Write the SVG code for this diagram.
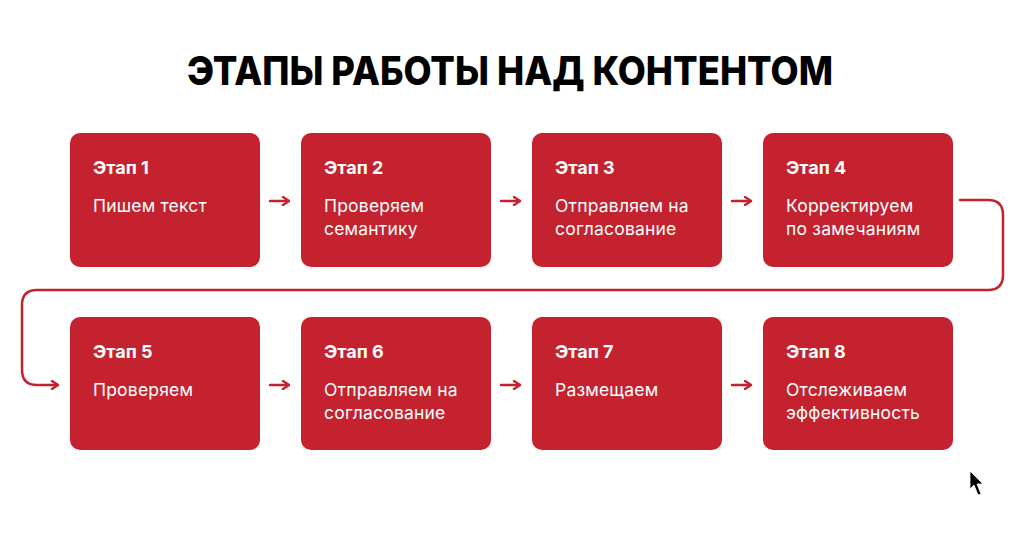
<svg xmlns="http://www.w3.org/2000/svg" width="1024" height="534" viewBox="0 0 1024 534">
<defs>
<style>
.box{fill:#C3222E}
.h{font-family:"Inter","Liberation Sans",sans-serif;font-weight:700;font-size:18px;fill:#fff}
.t{font-family:"Inter","Liberation Sans",sans-serif;font-weight:400;font-size:17.5px;fill:#fff;letter-spacing:0.2px}
.c{fill:none;stroke:#C3222E;stroke-width:2.5;stroke-linecap:round;stroke-linejoin:round}
</style>
<marker id="ah" viewBox="0 0 10 10" refX="9" refY="5" markerWidth="10" markerHeight="10" markerUnits="userSpaceOnUse" orient="auto">
<path d="M3,1 L9,5 L3,9" fill="none" stroke="#C3222E" stroke-width="2.4" stroke-linecap="round" stroke-linejoin="round"/>
</marker>
</defs>
<rect width="1024" height="534" fill="#fff"/>
<text x="510" y="85" text-anchor="middle" font-family="Inter,'Liberation Sans',sans-serif" font-weight="800" font-size="40" textLength="646" lengthAdjust="spacingAndGlyphs" fill="#000">ЭТАПЫ РАБОТЫ НАД КОНТЕНТОМ</text>
<g id="connectors">
<path class="c" d="M270,201 H289" marker-end="url(#ah)"/>
<path class="c" d="M501,201 H520" marker-end="url(#ah)"/>
<path class="c" d="M732,201 H751" marker-end="url(#ah)"/>
<path class="c" d="M270,385 H289" marker-end="url(#ah)"/>
<path class="c" d="M501,385 H520" marker-end="url(#ah)"/>
<path class="c" d="M732,385 H751" marker-end="url(#ah)"/>
<path class="c" d="M960,200 H988 Q1003,200 1003,215 V275 Q1003,290 988,290 H37 Q22,290 22,305 V370 Q22,385 37,385 H58" marker-end="url(#ah)"/>
</g>
<g id="n1"><rect class="box" x="70" y="133" width="190" height="134" rx="10"/><text class="h" x="93" y="174">Этап 1</text><text class="t" x="93" y="212">Пишем текст</text></g>
<g id="n2"><rect class="box" x="301" y="133" width="190" height="134" rx="10"/><text class="h" x="324" y="174">Этап 2</text><text class="t" x="324" y="212">Проверяем</text><text class="t" x="324" y="235">семантику</text></g>
<g id="n3"><rect class="box" x="532" y="133" width="190" height="134" rx="10"/><text class="h" x="555" y="174">Этап 3</text><text class="t" x="555" y="212">Отправляем на</text><text class="t" x="555" y="235">согласование</text></g>
<g id="n4"><rect class="box" x="763" y="133" width="190" height="134" rx="10"/><text class="h" x="786" y="174">Этап 4</text><text class="t" x="786" y="212">Корректируем</text><text class="t" x="786" y="235">по замечаниям</text></g>
<g id="n5"><rect class="box" x="70" y="317" width="190" height="133" rx="10"/><text class="h" x="93" y="358">Этап 5</text><text class="t" x="93" y="396">Проверяем</text></g>
<g id="n6"><rect class="box" x="301" y="317" width="190" height="133" rx="10"/><text class="h" x="324" y="358">Этап 6</text><text class="t" x="324" y="396">Отправляем на</text><text class="t" x="324" y="419">согласование</text></g>
<g id="n7"><rect class="box" x="532" y="317" width="190" height="133" rx="10"/><text class="h" x="555" y="358">Этап 7</text><text class="t" x="555" y="396">Размещаем</text></g>
<g id="n8"><rect class="box" x="763" y="317" width="190" height="133" rx="10"/><text class="h" x="786" y="358">Этап 8</text><text class="t" x="786" y="396">Отслеживаем</text><text class="t" x="786" y="419">эффективность</text></g>
<path d="M970,471 L970,489 L974,485 L978,495 L981,494 L977,484 L983,484 Z" fill="#000" stroke="#fff" stroke-width="0.8"/>
</svg>
